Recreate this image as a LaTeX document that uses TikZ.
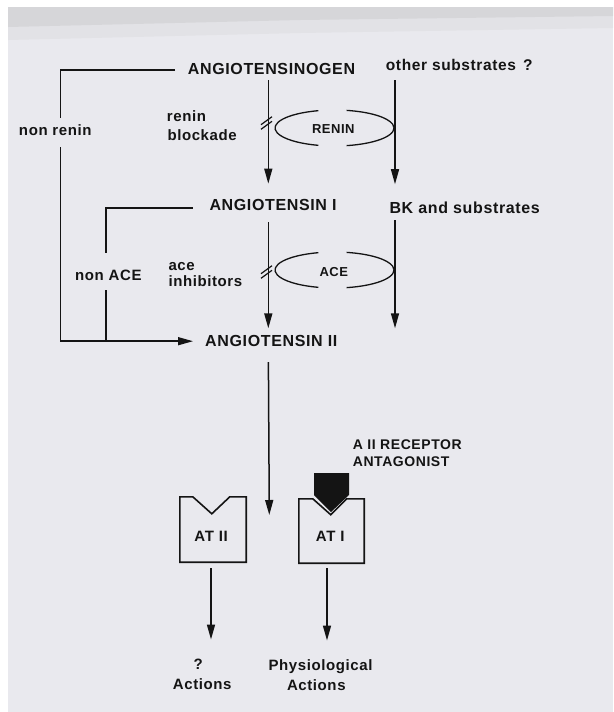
\documentclass[tikz,border=0pt]{standalone}
\usepackage{fontspec}
\setmainfont{Liberation Sans}[LetterSpace=4]
\usetikzlibrary{arrows.meta,calc}
\definecolor{pagegray}{RGB}{233,233,238}
\definecolor{bandgray}{RGB}{214,214,217}
\definecolor{bandlight}{RGB}{226,226,230}
\definecolor{ink}{RGB}{20,20,20}
\begin{document}
\begin{tikzpicture}[x=1pt,y=-1pt,
  txt/.style={font=\bfseries\fontsize{16}{19}\selectfont, text=ink, inner sep=0pt, anchor=base west},
  txs/.style={txt, font=\bfseries\fontsize{15}{18}\selectfont},
  txa/.style={txt, font=\bfseries\fontsize{14}{17}\selectfont},
  enz/.style={txt, font=\bfseries\fontsize{13}{15}\selectfont, anchor=base},
  ln/.style={draw=ink, line width=1.5pt},
  arr/.style={ln, -{Triangle[length=15pt,width=8pt]}},
  boxline/.style={draw=ink, line width=1.6pt, line join=miter},
  ]
% background (scanned page)
\useasboundingbox (0,0) rectangle (613,712);
\fill[white] (0,0) rectangle (613,712);
\fill[pagegray] (8,7) rectangle (613,712);
\fill[bandlight] (8,7) -- (613,7) -- (613,28) -- (300,33) -- (8,40) -- cycle;
\fill[bandgray] (8,7) -- (613,7) -- (613,16) -- (300,20) -- (8,27) -- cycle;

% text nodes
\node[txt] (agen) at (187.7,74) {ANGIOTENSINOGEN};
\node[txt, font=\bfseries\fontsize{15.5}{18}\selectfont] (other) at (385.7,70) {other substrates\hspace{7pt}?};
\node[txs] (nonrenin) at (18.8,135) {non renin};
\node[txs] (renA) at (166.7,121.7) {renin};
\node[txs] (renB) at (167.3,140) {blockade};
\node[txt] (ang1) at (209.3,210) {ANGIOTENSIN I};
\node[txt] (bk) at (389.3,213) {BK and substrates};
\node[txs] (nonace) at (75,280) {non ACE};
\node[txs] (aceA) at (168.3,270) {ace};
\node[txs] (aceB) at (168.3,286.7) {inhibitors};
\node[txt] (ang2) at (205,346.7) {ANGIOTENSIN II};
\node[enz] (reninlbl) at (333.3,133.3) {RENIN};
\node[enz] (acelbl) at (333.8,276) {ACE};
\node[txa] (antA) at (352.7,449.3) {A II RECEPTOR};
\node[txa] (antB) at (352.7,466) {ANTAGONIST};
\node[txs, anchor=base] (q) at (198.3,669.3) {?};
\node[txs, anchor=base] (act2) at (202.2,689.3) {Actions};
\node[txs, anchor=base] (phys) at (320.5,670.7) {Physiological};
\node[txs, anchor=base] (act1) at (316.3,690) {Actions};

% column coordinates
\coordinate (spine) at (268.3,0);
\coordinate (rcol) at (395,0);
\coordinate (L1) at (60.5,0);
\coordinate (L2) at (106,0);
\coordinate (rtip) at (395,328.3);
\coordinate (spinetip) at (269.3,515);

% vertical arrows
\draw[arr, shorten <=6pt, shorten >=15pt] (agen.south -| spine) -- (ang1.north -| spine);
\draw[arr, shorten <=10pt, shorten >=17pt] (other.south -| rcol) -- (bk.north -| rcol);
\draw[arr, shorten <=11.7pt, shorten >=7pt] (ang1.south -| spine) -- (ang2.north -| spine);
\draw[arr, shorten <=7pt] (bk.south -| rcol) -- (rtip);
\draw[arr, shorten <=15pt] (ang2.south -| spine) -- (spinetip);

% bypass brackets
\draw[ln, shorten <=12.7pt, shorten >=5.8pt] ([yshift=-1.7pt]agen.west) -| (L1 |- nonrenin.north);
\draw[arr, shorten <=11.7pt, shorten >=12pt] (L1 |- nonrenin.south) |- (ang2.west);
\draw[ln, shorten <=16.6pt, shorten >=16pt] ([yshift=-3.5pt]ang1.west) -| (L2 |- nonace.north);
\draw[ln, shorten <=10pt] (L2 |- nonace.south) -- (L2 |- ang2.west);

% enzyme ellipses (open at top and bottom)
\coordinate (reninC) at (334.5,128);
\coordinate (aceC) at (334.5,270);
\foreach \c in {reninC,aceC}{
  \draw[ln, line width=1.3pt] ([shift={(105.8:59.5pt and 18pt)}]\c) arc[start angle=105.8, end angle=254.2, x radius=59.5pt, y radius=18pt];
  \draw[ln, line width=1.3pt] ([shift={(-78.2:59.5pt and 18pt)}]\c) arc[start angle=-78.2, end angle=78.2, x radius=59.5pt, y radius=18pt];
}

% blockade marks
\coordinate (slash1) at (266.5,123);
\coordinate (slash2) at (266.5,272);
\foreach \s in {slash1,slash2}{
  \foreach \d in {-2.3,2.3}
    \draw[ln, line width=1.2pt] ($(\s)+(-5.5,4+\d)$) -- ($(\s)+(5.5,-4+\d)$);
}

% receptors
\node[inner sep=0pt, minimum width=66pt, minimum height=65pt] (at2) at (213,529.5) {};
\node[inner sep=0pt, minimum width=65pt, minimum height=64pt] (at1) at (331.5,531) {};
\draw[boxline] (at2.north west) -- ++(13,0) -- ++(19,17) -- ++(18,-17) -- (at2.north east) -- (at2.south east) -- (at2.south west) -- cycle;
\draw[boxline] (at1.north west) -- ++(14,0) -- ++(18,16) -- ++(16,-16) -- (at1.north east) -- (at1.south east) -- (at1.south west) -- cycle;
\fill[ink] (314,473) -- (349,473) -- (349,495) -- (331,512) -- (314,495) -- cycle;
\node[txs, anchor=base] (at2lbl) at (211.2,541.7) {AT\hspace{5pt}II};
\node[txs, anchor=base] (at1lbl) at (330.3,541.7) {AT\hspace{5pt}I};

% action arrows
\coordinate (a2tip) at (211,639.5);
\coordinate (a1tip) at (327,640.5);
\draw[arr, shorten <=6pt] ([xshift=-2pt]at2.south) -- (a2tip);
\draw[arr, shorten <=5pt] ([xshift=-4.5pt]at1.south) -- (a1tip);
\end{tikzpicture}
\end{document}
